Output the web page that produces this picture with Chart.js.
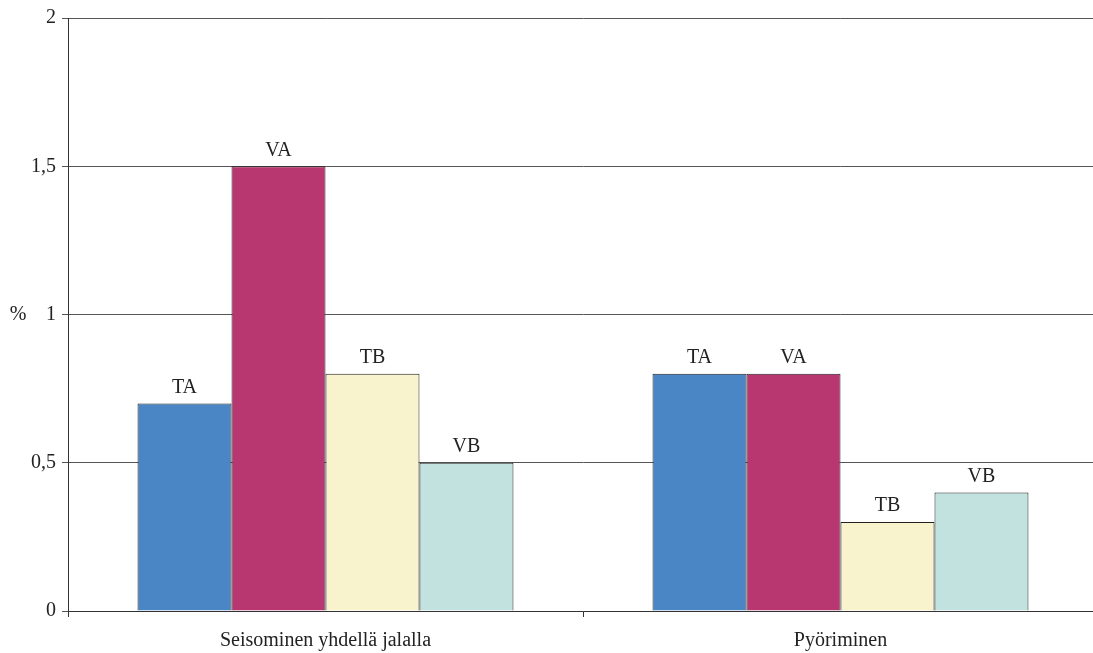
<!DOCTYPE html>
<html>
<head>
<meta charset="utf-8">
<script src="https://cdn.jsdelivr.net/npm/chart.js@4.4.1/dist/chart.umd.min.js"></script>
<style>
  html, body { margin: 0; padding: 0; background: #fff; overflow: hidden; }
  #wrap { width: 1093px; height: 653px; overflow: hidden; }
</style>
</head>
<body>
<div id="wrap"><canvas id="chart" width="1098" height="653"></canvas></div>
<script>
// ===== DATA =====
const categories = ['Seisominen yhdellä jalalla', 'Pyöriminen'];
const seriesNames = ['TA', 'VA', 'TB', 'VB'];
const seriesColors = ['#4a86c5', '#b83770', '#f8f3cc', '#c2e2e0'];
const valuesTA = [0.7, 0.8];
const valuesVA = [1.5, 0.8];
const valuesTB = [0.8, 0.3];
const valuesVB = [0.5, 0.4];
const yTicks = [0, 0.5, 1, 1.5, 2];

const FONT = "'Liberation Serif', 'Times New Roman', serif";

// draws series name above every bar
const barLabels = {
  id: 'barLabels',
  afterDatasetsDraw(chart) {
    const ctx = chart.ctx;
    ctx.save();
    ctx.font = `20px ${FONT}`;
    ctx.fillStyle = '#222';
    ctx.textAlign = 'center';
    ctx.textBaseline = 'bottom';
    chart.data.datasets.forEach((ds, i) => {
      chart.getDatasetMeta(i).data.forEach(bar => {
        ctx.fillText(ds.label, bar.x, bar.y - 6);
      });
    });
    // y axis unit
    ctx.textBaseline = 'middle';
    const y = chart.scales.y.getPixelForValue(1);
    ctx.fillText('%', 18, y);
    ctx.restore();
  }
};

const allValues = [valuesTA, valuesVA, valuesTB, valuesVB];

new Chart(document.getElementById('chart'), {
  type: 'bar',
  data: {
    labels: categories,
    datasets: seriesNames.map((name, i) => ({
      label: name,
      data: allValues[i],
      backgroundColor: seriesColors[i],
      borderColor: '#222',
      borderWidth: 1,
      categoryPercentage: 0.73,
      barPercentage: 1
    }))
  },
  options: {
    responsive: false,
    animation: false,
    layout: { padding: { top: 6, right: 0, left: 0, bottom: 0 } },
    plugins: {
      legend: { display: false },
      tooltip: { enabled: false }
    },
    scales: {
      x: {
        grid: { offset: true, drawOnChartArea: false, color: '#333', tickLength: 6 },
        border: { color: '#333', width: 1 },
        ticks: { color: '#222', font: { family: FONT, size: 20 }, padding: 12 },
        afterFit(scale) { scale.height = 42; }
      },
      y: {
        min: 0,
        max: 2,
        afterBuildTicks(scale) { scale.ticks = yTicks.map(v => ({ value: v })); },
        grid: { color: '#555', tickLength: 6 },
        border: { color: '#333', width: 1 },
        ticks: {
          color: '#222',
          font: { family: FONT, size: 20 },
          padding: 6,
          callback: v => String(v).replace('.', ',')
        },
        afterFit(scale) { scale.width = 68; }
      }
    }
  },
  plugins: [barLabels]
});
</script>
</body>
</html>
